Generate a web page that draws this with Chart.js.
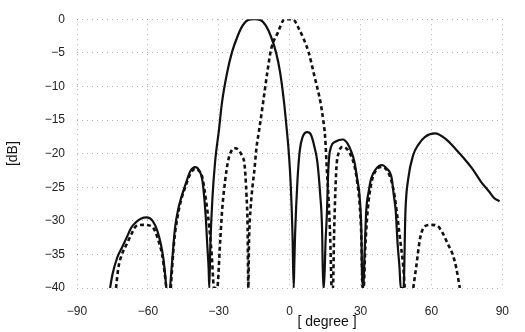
<!DOCTYPE html>
<html>
<head>
<meta charset="utf-8">
<script src="https://cdn.jsdelivr.net/npm/chart.js@4/dist/chart.umd.min.js"></script>
<style>
html,body{margin:0;padding:0;background:#fff;}
#c{display:block;}
</style>
</head>
<body>
<canvas id="c" width="525" height="332"></canvas>
<script>
// ---- data (degree / dB), null dB = break in the curve ----
const solidDeg = [
  -76,-75,-73,-71,-69,-67,-65,-63,-60.5,-58,-56,-54.5,-53.5,-52.7,-52.2,
  -51.4,
  -50.6,-49.5,-48.5,-47,-46,-44,-42,-40,-38.5,-36.9,-35.6,-34.8,-34.3,-34,
  -33.6,-32.7,-31.5,-30,-28.6,-26.5,-24.4,-22,-20,-17.5,-15,-12.5,-10,-8,-5.8,-4,-2.4,-1.2,-0.4,0.5,1.2,1.7,
  2,2.3,3.3,4.3,5.5,7.5,9,10.5,11.7,12.9,13.7,14.2,
  14.5,15.2,15.8,16.2,17,19.5,22.5,24.5,26.2,27.4,28.7,29.5,30.3,30.8,
  31.2,31.6,32.4,33.5,34.5,36.5,39,41,43.2,44,44.9,45.7,46.5,47,
  48.2,49,50.2,52.3,54.4,57.3,61.5,66,70.2,74,77.2,81,84.3,86.5,88.8
];
const solidDb = [
  -40,-38,-35.5,-34,-32.5,-31,-30.2,-29.7,-29.5,-30,-31.5,-33.5,-35.5,-38,-40,
  null,
  -40,-35,-31,-28,-26.7,-24.5,-22.6,-22,-22.4,-24.1,-29,-34,-37,-40,
  -34,-26.7,-21,-16.7,-12.3,-8,-4.9,-2.5,-1,-0.1,0,-0.1,-1,-2.5,-4.9,-8,-12.3,-16.5,-19.7,-25,-32,-40,
  -36,-32,-24,-19.5,-17.5,-16.8,-17.2,-19,-21.2,-26,-31,-40,
  -40,-33,-28.6,-23.7,-19.7,-18.2,-17.9,-18.5,-19.8,-21.2,-24,-26,-31,-40,
  -40,-36,-28.6,-25.5,-23.7,-22.3,-21.7,-22.2,-23.7,-26,-28.6,-33.5,-37,-40,
  -40,-28.6,-23.7,-20.2,-18.7,-17.5,-17,-17.8,-19.3,-20.8,-22.2,-24.2,-25.6,-26.6,-27.1
];
const dashedDeg = [
  -73.5,-72.5,-71,-69,-67,-65,-62,-58.5,-57,-55.5,-54,-53,-52.2,
  -51.2,
  -50.3,-49,-47.5,-46,-44,-42,-40,-38.5,-37,-36,-35,-34,-33,-32,
  -30.7,-29.4,-28.6,-27.3,-26,-24.5,-23.2,-21.5,-20,-19.1,-18.3,-17.8,-17.5,
  -17.2,-16.5,-15.6,-15,-14,-13,-11.2,-9.5,-7.8,-5,-2.4,0,1.7,4,6,8,10.5,13,14.2,15,15.8,16.5,17.2,17.8,
  18.3,18.8,19.3,19.8,20.8,22.5,24.5,26.2,27.4,28.7,29.5,30.3,30.9,
  31.3,32,33,34.5,36.5,39,41,43,44.5,45.8,47,48,48.7,
  50.5,
  52.3,53.5,55.2,57.3,60,62.7,65,67,69,70.5,72
];
const dashedDb = [
  -40,-37,-35,-33.5,-32,-30.8,-30.6,-30.8,-31.5,-33,-35,-37.5,-40,
  null,
  -40,-33.5,-29.5,-27,-24.8,-23,-22.3,-22.5,-23.5,-25.5,-28,-31,-35,-40,
  -40,-33,-28.5,-24,-21,-19.5,-19.2,-19.5,-20.5,-21.6,-26,-31,-40,
  -33,-28,-24.5,-22.7,-19,-16.7,-12.3,-8,-4.4,-2,-0.1,0,-0.1,-1.5,-3,-4.9,-8.5,-12.3,-15,-17.5,-22.7,-27,-33,-40,
  -40,-32,-26,-22,-19.8,-19,-19.4,-20.5,-21.8,-24.5,-27,-32,-40,
  -40,-34,-28.5,-24.5,-22.5,-22,-22.4,-24,-26.5,-30,-33.5,-36.5,-40,
  null,
  -40,-37,-32.6,-30.8,-30.6,-30.8,-32,-33.5,-35,-37,-40
];
const xTicks = [-90,-60,-30,0,30,60,90];
const yTicks = [0,-5,-10,-15,-20,-25,-30,-35,-40];
const xTitle = '[ degree ]';
const yTitle = '[dB]';

const pts = (xs, ys) => xs.map((x, i) => ({x: x, y: ys[i]}));
const minus = v => String(v).replace('-', '\u2212');
const FONT = "'Liberation Sans', Arial, sans-serif";

const xTitlePlugin = {
  id: 'xTitle',
  afterDraw(chart) {
    const ctx = chart.ctx;
    ctx.save();
    ctx.font = '14px ' + FONT;
    ctx.fillStyle = '#111';
    ctx.textAlign = 'center';
    ctx.textBaseline = 'middle';
    ctx.fillText(xTitle, 327, 322);
    ctx.restore();
  }
};

const gridOpts = { color: 'rgba(0,0,0,0.3)', drawTicks: false, lineWidth: 1 };
const borderOpts = { display: false, dash: [1, 4] };

new Chart(document.getElementById('c'), {
  type: 'scatter',
  data: {
    datasets: [
      {
        data: pts(solidDeg, solidDb),
        showLine: true,
        borderColor: '#111',
        borderWidth: 2.2,
        pointRadius: 0,
        cubicInterpolationMode: 'monotone',
        spanGaps: false
      },
      {
        data: pts(dashedDeg, dashedDb),
        showLine: true,
        borderColor: '#111',
        borderWidth: 2.6,
        borderDash: [4, 3],
        pointRadius: 0,
        cubicInterpolationMode: 'monotone',
        spanGaps: false
      }
    ]
  },
  plugins: [xTitlePlugin],
  options: {
    responsive: false,
    animation: false,
    devicePixelRatio: 1,
    layout: { padding: { top: 17, right: 15, left: 5, bottom: 0 } },
    plugins: { legend: { display: false }, tooltip: { enabled: false } },
    scales: {
      x: {
        type: 'linear',
        min: -90, max: 90,
        afterBuildTicks: s => { s.ticks = xTicks.map(v => ({value: v})); },
        afterFit: s => { s.height = 44; },
        border: borderOpts,
        grid: gridOpts,
        ticks: { padding: 16, color: '#222', font: { size: 12, family: FONT }, callback: v => minus(v), maxRotation: 0 }
      },
      y: {
        type: 'linear',
        min: -40, max: 0,
        afterBuildTicks: s => { s.ticks = yTicks.map(v => ({value: v})); },
        afterFit: s => { s.width = 72; },
        border: borderOpts,
        grid: gridOpts,
        ticks: { padding: 12, color: '#222', font: { size: 12, family: FONT }, callback: v => minus(v) },
        title: { display: true, text: yTitle, color: '#111', font: { size: 14, family: FONT }, padding: { top: 0, bottom: 0 } }
      }
    }
  }
});
</script>
</body>
</html>
